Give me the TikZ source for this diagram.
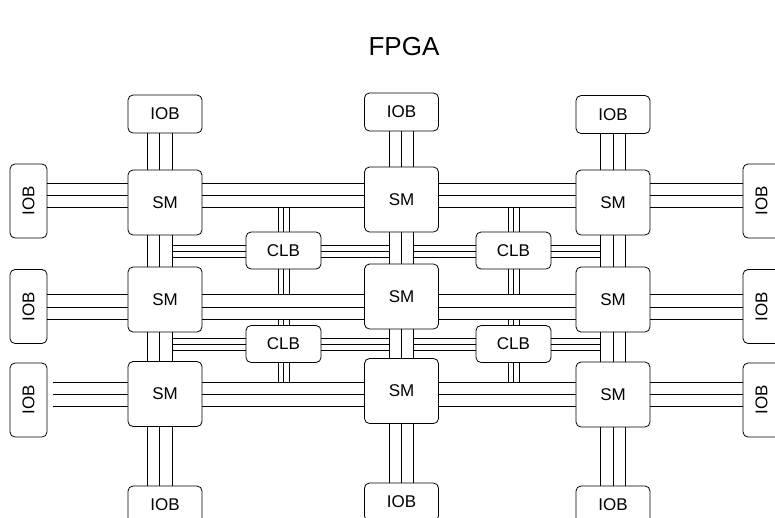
\documentclass[tikz,border=0pt]{standalone}
\usepackage{fontspec}
\setmainfont{Liberation Sans}
\usetikzlibrary{positioning}

\tikzset{
  blk/.style={draw, rounded corners=5pt, line width=0.8pt, inner sep=0pt,
    font=\fontsize{17}{19}\selectfont},
  smbox/.style={blk, minimum width=74pt, minimum height=65pt},
  iobh/.style={blk, minimum width=74pt, minimum height=38pt},
  iobv/.style={blk, minimum width=37pt, minimum height=74pt},
  clbbox/.style={blk, minimum width=75pt, minimum height=37pt},
  bus/.style={line width=0.8pt}
}

\begin{document}
\begin{tikzpicture}[x=1pt, y=-1pt]
  \useasboundingbox (0,0) rectangle (775,517);

  % Title
  \node (title) at (404,47) {\fontsize{26}{30}\selectfont FPGA};

  % Switch matrices
  \node[smbox] (sm11) at (165,202.5) {SM};
  \node[smbox] (sm12) at (401.5,199.5) {SM};
  \node[smbox] (sm13) at (613,202.5) {SM};
  \node[smbox] (sm21) at (165,299.5) {SM};
  \node[smbox] (sm22) at (401.5,296.5) {SM};
  \node[smbox] (sm23) at (613,299.5) {SM};
  \node[smbox] (sm31) at (165,394) {SM};
  \node[smbox] (sm32) at (401.5,391) {SM};
  \node[smbox] (sm33) at (613,394.5) {SM};

  % Logic blocks
  \node[clbbox] (clb11) at (283.5,250.5) {CLB};
  \node[clbbox] (clb12) at (513.5,250.5) {CLB};
  \node[clbbox] (clb21) at (283.5,344) {CLB};
  \node[clbbox] (clb22) at (513.5,344) {CLB};

  % I/O blocks
  \node[iobh] (iobt1) at (165,114) {IOB};
  \node[iobh] (iobt2) at (401.5,112) {IOB};
  \node[iobh] (iobt3) at (613,114.5) {IOB};
  \node[iobh] (iobb1) at (165,505) {IOB};
  \node[iobh] (iobb2) at (401.5,502) {IOB};
  \node[iobh] (iobb3) at (613,505) {IOB};
  \node[iobv] (iobl1) at (28.5,201) {\rotatebox{90}{IOB}};
  \node[iobv] (iobl2) at (28.5,306.5) {\rotatebox{90}{IOB}};
  \node[iobv] (iobl3) at (28.5,400) {\rotatebox{90}{IOB}};
  \node[iobv] (iobr1) at (761.5,201) {\rotatebox{90}{IOB}};
  \node[iobv] (iobr2) at (761.5,306.5) {\rotatebox{90}{IOB}};
  \node[iobv] (iobr3) at (761.5,400) {\rotatebox{90}{IOB}};

  % Bus edges
  \coordinate (c1r) at (172,0);
  \coordinate (c2l) at (389,0);
  \coordinate (c2r) at (413,0);
  \coordinate (c3l) at (600,0);
  \coordinate (r1b) at (0,207);
  \coordinate (r2t) at (0,294);
  \coordinate (r2b) at (0,319);
  \coordinate (r3t) at (0,382);
  \coordinate (l3s) at ([xshift=6pt]iobl3.east);

  % Column buses
  \foreach \c/\xa/\xb/\xc in {1/147/159/172, 2/389/401/413, 3/600/613/625} {
    \foreach \x in {\xa,\xb,\xc} {
      \draw[bus] (iobt\c.south -| \x,0) -- (sm1\c.north -| \x,0);
      \draw[bus] (sm1\c.south -| \x,0) -- (sm2\c.north -| \x,0);
      \draw[bus] (sm2\c.south -| \x,0) -- (sm3\c.north -| \x,0);
      \draw[bus] (sm3\c.south -| \x,0) -- (iobb\c.north -| \x,0);
    }
  }

  % Row buses
  \foreach \r/\ya/\yb/\yc in {1/183/195/207, 2/294/307/319, 3/382/394/406} {
    \foreach \y in {\ya,\yb,\yc} {
      \draw[bus] (sm\r1.east |- 0,\y) -- (sm\r2.west |- 0,\y);
      \draw[bus] (sm\r2.east |- 0,\y) -- (sm\r3.west |- 0,\y);
      \draw[bus] (sm\r3.east |- 0,\y) -- (iobr\r.west |- 0,\y);
    }
  }
  \foreach \y in {183,195,207} \draw[bus] (iobl1.east |- 0,\y) -- (sm11.west |- 0,\y);
  \foreach \y in {294,307,319} \draw[bus] (iobl2.east |- 0,\y) -- (sm21.west |- 0,\y);
  \foreach \y in {382,394,406} \draw[bus] (l3s |- 0,\y) -- (sm31.west |- 0,\y);

  % CLB buses
  \foreach \k/\ya/\yb/\yc in {1/245/251/257, 2/338/344/350} {
    \foreach \y in {\ya,\yb,\yc} {
      \draw[bus] (c1r |- 0,\y) -- (clb\k1.west |- 0,\y);
      \draw[bus] (clb\k1.east |- 0,\y) -- (c2l |- 0,\y);
      \draw[bus] (c2r |- 0,\y) -- (clb\k2.west |- 0,\y);
      \draw[bus] (clb\k2.east |- 0,\y) -- (c3l |- 0,\y);
    }
  }
  \foreach \j/\xa/\xb/\xc in {1/278/283.5/289, 2/508/513.5/519} {
    \foreach \x in {\xa,\xb,\xc} {
      \draw[bus] (r1b -| \x,0) -- (clb1\j.north -| \x,0);
      \draw[bus] (clb1\j.south -| \x,0) -- (r2t -| \x,0);
      \draw[bus] (r2b -| \x,0) -- (clb2\j.north -| \x,0);
      \draw[bus] (clb2\j.south -| \x,0) -- (r3t -| \x,0);
    }
  }
\end{tikzpicture}
\end{document}
